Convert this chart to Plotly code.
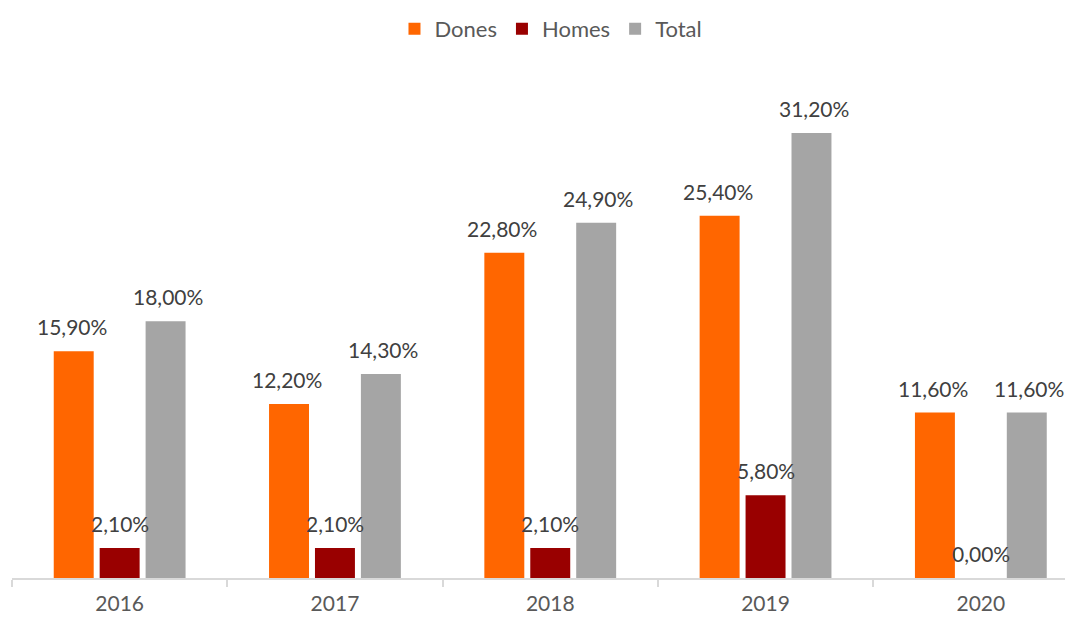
import plotly.graph_objects as go

years = ["2016", "2017", "2018", "2019", "2020"]
dones = [15.9, 12.2, 22.8, 25.4, 11.6]
homes = [2.1, 2.1, 2.1, 5.8, 0.0]
total = [18.0, 14.3, 24.9, 31.2, 11.6]

series = [
    ("Dones", dones, "#ff6600"),
    ("Homes", homes, "#990000"),
    ("Total", total, "#a5a5a5"),
]

FONT = "Lato, Calibri, sans-serif"


def fmt(v):
    return f"{v:.2f}".replace(".", ",") + "%"


fig = go.Figure()
for name, vals, color in series:
    fig.add_trace(go.Bar(x=years, y=vals, name=name, marker_color=color,
                         marker_line_width=0, hoverinfo="skip"))

# data labels above each bar (category index, since year strings look numeric)
shifts = [-48, 0, 48]
for (name, vals, color), dx in zip(series, shifts):
    for i, v in enumerate(vals):
        fig.add_annotation(x=i, y=v, text=fmt(v), showarrow=False,
                           xshift=dx, yanchor="bottom", yshift=10,
                           font={"size": 21, "color": "#404040", "family": FONT})

# page body has an 8px margin, so the figure is sized/offset to fit;
# the original chart runs off the right edge, hence the clipped x range
fig.update_layout(
    width=1065, height=609,
    margin={"l": 4, "r": 0, "t": 52, "b": 39, "autoexpand": False},
    plot_bgcolor="white",
    paper_bgcolor="white",
    barmode="group",
    bargap=0.36,
    bargroupgap=0.13,
    font={"family": FONT, "color": "#595959"},
    legend={
        "orientation": "h",
        "x": 0.508, "xanchor": "center",
        "y": 1, "yref": "container", "yanchor": "top",
        "font": {"size": 22, "color": "#595959"},
        "itemwidth": 30,
    },
    xaxis={
        "type": "category",
        "automargin": False,
        "range": [-0.5, 4.428],
        "showline": True, "linecolor": "#d9d9d9", "linewidth": 1.5,
        "ticks": "outside", "tickson": "boundaries", "ticklen": 7,
        "tickcolor": "#d9d9d9", "tickwidth": 1.5,
        "ticklabelstandoff": 6,
        "tickfont": {"size": 21, "color": "#595959"},
        "showgrid": False,
    },
    yaxis={
        "range": [0, 36.32],
        "visible": False,
        "showgrid": False,
    },
)

fig.write_html("out.html")
